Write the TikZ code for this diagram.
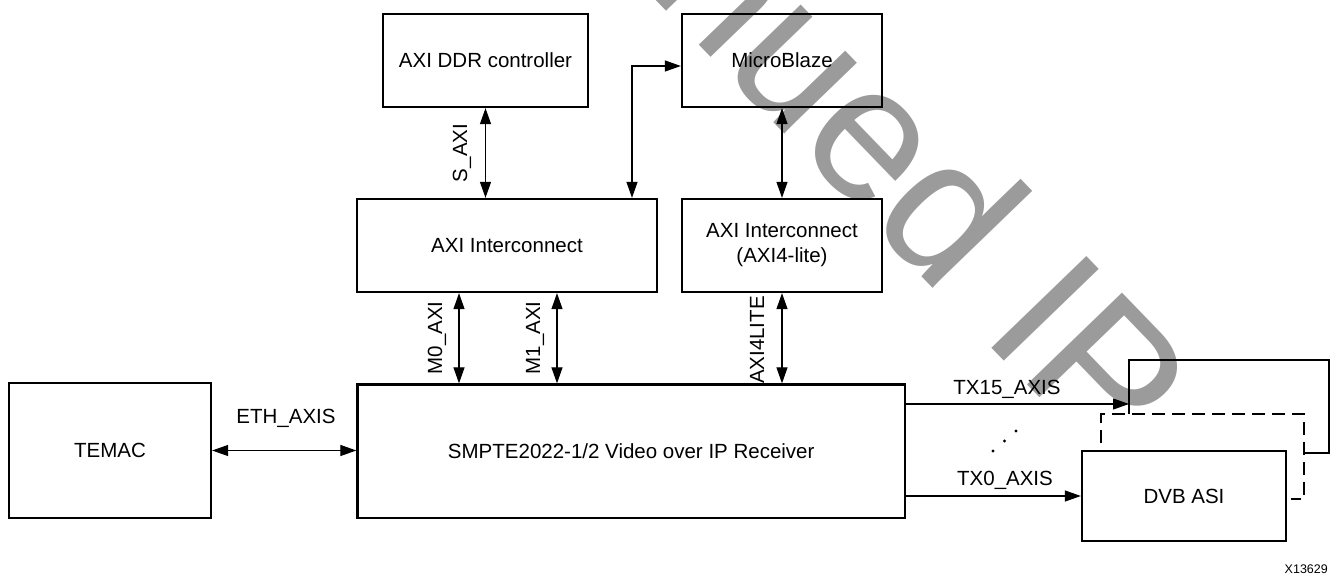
\documentclass[tikz,border=0pt]{standalone}
\usepackage{fontspec}
\setmainfont{Liberation Sans}
\usetikzlibrary{arrows.meta}
\definecolor{wm}{RGB}{155,155,155}
\tikzset{
  blk/.style={draw, line width=2.3pt, inner sep=0pt, align=center, font=\fontsize{20.5}{25}\selectfont},
  lnk/.style={line width=1.2pt, {Triangle[length=16pt,width=11pt]}-{Triangle[length=16pt,width=11pt]}},
  one/.style={line width=1.2pt, -{Triangle[length=16pt,width=11pt]}},
  lbl/.style={font=\fontsize{20.5}{25}\selectfont, inner sep=0pt},
  dsh/.style={line width=2.2pt, dash pattern=on 13pt off 7pt},
  sld/.style={line width=2.2pt},
}
\begin{document}
\begin{tikzpicture}[x=1pt,y=-1pt]
\useasboundingbox (0,0) rectangle (1331,575);
\begin{scope}
\clip (0,0) rectangle (1331,575);
\node[rotate=-46, anchor=base east, inner sep=0pt, text=wm,
      font=\fontsize{192}{192}\selectfont] (wmk) at (1105.5,466) {Discontinued IP};
\end{scope}
% boxes
\node[blk, minimum width=205pt, minimum height=93pt] (ddr) at (485.5,60.5) {AXI DDR controller};
\node[blk, minimum width=200pt, minimum height=93pt] (mb) at (782,60.5) {MicroBlaze};
\node[blk, minimum width=300pt, minimum height=93pt] (axi) at (507,245.5) {AXI Interconnect};
\node[blk, minimum width=200pt, minimum height=93pt] (lite) at (782,245.5) {AXI Interconnect\\(AXI4-lite)};
\node[blk, minimum width=547.5pt, minimum height=133.5pt] (smpte) at (631.25,451.25) {SMPTE2022-1/2 Video over IP Receiver};
\node[blk, minimum width=202pt, minimum height=135pt] (temac) at (110,450.5) {TEMAC};
\node[blk, minimum width=204pt, minimum height=90pt] (dvb) at (1184,496) {DVB ASI};
% stacked DVB ASI copies
\draw[sld] (1129,414) -- (1129,360) -- (1329,360) -- (1329,453) -- (1305,453);
\draw[dsh] (1101,443) -- (1101,414) -- (1304,414) -- (1304,499) -- (1291,499);
\coordinate (bk) at (1129,404);
% connectors
\draw[lnk] (ddr.south) -- (axi.north -| ddr.south);
\draw[lnk] ([yshift=-5.5pt]mb.west) -| ([xshift=125pt]axi.north);
\draw[lnk] (mb.south) -- (lite.north);
\draw[lnk] ([xshift=-48pt]axi.south) -- ([xshift=-48pt]axi.south |- smpte.north);
\draw[lnk] ([xshift=50pt]axi.south) -- ([xshift=50pt]axi.south |- smpte.north);
\draw[lnk] (lite.south) -- (lite.south |- smpte.north);
\draw[lnk] (temac.east) -- (temac.east -| smpte.west);
\draw[one] (smpte.east |- bk) -- (bk);
\draw[one] (smpte.east |- dvb.west) -- (dvb.west);
% labels
\node[lbl, rotate=90] (ls) at (462,153) {S\_AXI};
\node[lbl, rotate=90] (lm0) at (437,338) {M0\_AXI};
\node[lbl, rotate=90] (lm1) at (535,338) {M1\_AXI};
\node[lbl, rotate=90] (lal) at (757,340) {AXI4LITE};
\node[lbl] (leth) at (286,418) {ETH\_AXIS};
\node[lbl] (ltx15) at (1007,389) {TX15\_AXIS};
\node[lbl] (ltx0) at (1005,480) {TX0\_AXIS};
\fill (993,451) circle (1.6pt);
\fill (1004.5,441) circle (1.6pt);
\fill (1016,431) circle (1.6pt);
\node[anchor=base east, inner sep=0pt, font=\fontsize{12.5}{12}\selectfont] (xid) at (1328,573) {X13629};
\end{tikzpicture}
\end{document}
